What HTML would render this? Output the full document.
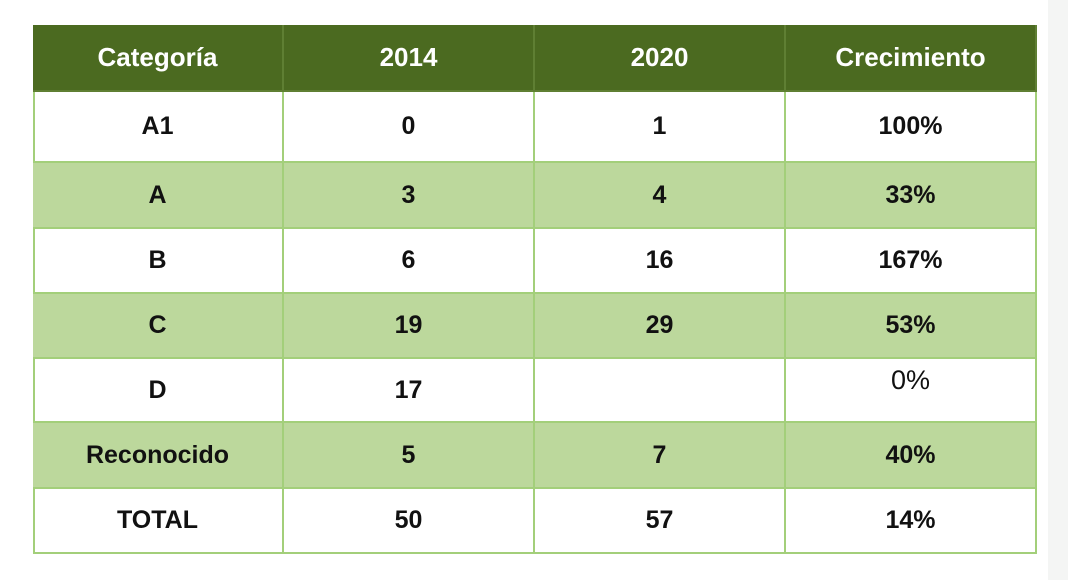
<!DOCTYPE html>
<html><head><meta charset="utf-8"><style>
body{margin:0;width:1068px;height:580px;background:#fff;position:relative;overflow:hidden;font-family:"Liberation Sans",sans-serif}
#strip{position:absolute;left:1048px;top:0;width:20px;height:580px;background:#f4f5f4}
.c{position:absolute;box-sizing:border-box;display:flex;align-items:center;justify-content:center;font-weight:bold;font-size:25px;color:#111;border-right:2px solid #a3cf7a;border-bottom:2px solid #a3cf7a}
.h{background:#4b6a20;color:#fff;font-size:26px;border-color:#5f7f33}
.g{background:#bcd89c}
#tbl{position:absolute;left:33px;top:25px;width:1004px;height:529px;box-sizing:border-box;border:2px solid #a3cf7a}
</style></head><body>
<div id="strip"></div>
<div id="tbl"></div>
<script>
const headers=["Categoría","2014","2020","Crecimiento"];
const categories=["A1","A","B","C","D","Reconocido","TOTAL"];
const v2014=["0","3","6","19","17","5","50"];
const v2020=["1","4","16","29","","7","57"];
const growth=["100%","33%","167%","53%","0%","40%","14%"];
const colX=[33,284,535,786,1037];
const rowY=[25,92,163,229,294,359,423,489,554];
function cell(r,c,text,cls,name){
  const d=document.createElement('div');
  d.className='c '+cls;
  
  
  d.style.left=colX[c]+'px';d.style.top=rowY[r]+'px';
  d.style.width=(colX[c+1]-colX[c])+'px';d.style.height=(rowY[r+1]-rowY[r])+'px';
  d.textContent=text;
  document.body.appendChild(d);
  return d;
}
headers.forEach((h,i)=>cell(0,i,h,'h','header-'+h.toLowerCase()));
categories.forEach((cat,i)=>{
  const cls=(i%2===1)?'g':'';
  cell(i+1,0,cat,cls,'category-'+cat.toLowerCase());
  cell(i+1,1,v2014[i],cls,'value-2014-'+cat.toLowerCase());
  cell(i+1,2,v2020[i],cls,'value-2020-'+cat.toLowerCase());
  const g=cell(i+1,3,growth[i],cls,'growth-'+cat.toLowerCase());
  if(cat==='D'){g.style.fontWeight='normal';g.style.alignItems='flex-start';g.style.paddingTop='6px';g.style.fontSize='27px';}
});
</script>
</body></html>
